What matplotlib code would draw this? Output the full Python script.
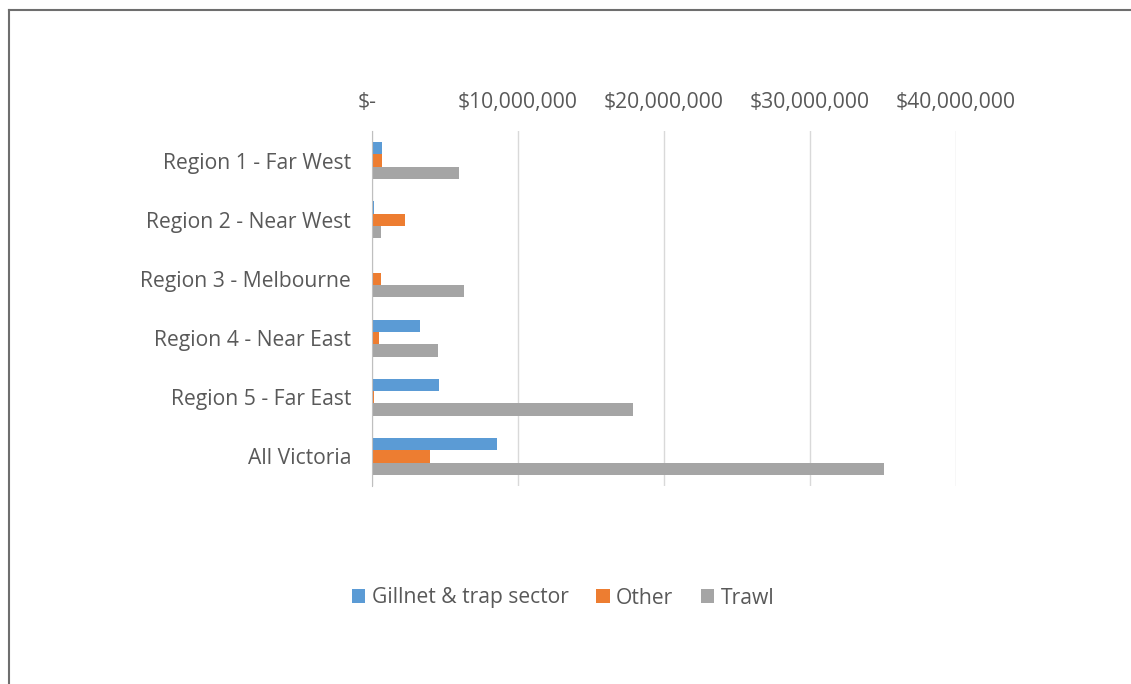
import matplotlib
matplotlib.use("Agg")
import matplotlib.pyplot as plt
from matplotlib.lines import Line2D
from matplotlib.transforms import ScaledTranslation
import numpy as np

regions = ["Region 1 - Far West", "Region 2 - Near West", "Region 3 - Melbourne",
           "Region 4 - Near East", "Region 5 - Far East", "All Victoria"]
gillnet = [0.70e6, 0.16e6, 0.0, 3.31e6, 4.59e6, 8.55e6]
other = [0.70e6, 2.24e6, 0.60e6, 0.48e6, 0.16e6, 3.97e6]
trawl = [5.95e6, 0.60e6, 6.28e6, 4.52e6, 17.9e6, 35.1e6]
series_names = ["Gillnet & trap sector", "Other", "Trawl"]
x_ticks = [0, 10e6, 20e6, 30e6, 40e6]
x_tick_labels = ["$-", "$10,000,000", "$20,000,000", "$30,000,000", "$40,000,000"]

colors = ["#5B9BD5", "#ED7D31", "#A5A5A5"]
text_color = "#595959"
plt.rcParams["font.family"] = ["Open Sans", "DejaVu Sans"]
fs = 15.2

fig = plt.figure(figsize=(11.31, 6.84), dpi=100)
W, H = 1131, 684
left, right, top, bottom = 372, 956, 131, 486
ax = fig.add_axes([left / W, 1 - bottom / H, (right - left) / W, (bottom - top) / H])

y = np.arange(len(regions))
bh = 0.208
for i, (vals, name) in enumerate(zip([gillnet, other, trawl], series_names)):
    ax.barh(y + (i - 1) * bh, vals, height=bh, color=colors[i], label=name, zorder=3)

ax.set_ylim(len(regions) - 0.5, -0.5)
ax.set_xlim(0, 40e6)
ax.set_yticks(y)
ax.set_yticklabels(regions, fontsize=fs, color=text_color)
ax.xaxis.tick_top()
ax.set_xticks(x_ticks)
ax.set_xticklabels(x_tick_labels, fontsize=fs, color=text_color)
ax.tick_params(axis="both", length=0)
ax.tick_params(axis="x", pad=13)
ax.tick_params(axis="y", pad=15)
ax.grid(axis="x", color="#D9D9D9", linewidth=1, zorder=0)
for s in ["top", "right", "bottom"]:
    ax.spines[s].set_visible(False)
ax.spines["left"].set_color("#BFBFBF")
ax.spines["left"].set_zorder(4)

# accounting-style zero label sits a little left of the axis
zero_lbl = ax.get_xticklabels()[0]
zero_lbl.set_transform(zero_lbl.get_transform() + ScaledTranslation(-5 / 100, 0, fig.dpi_scale_trans))

leg = fig.legend(loc="center", bbox_to_anchor=(563 / W, 1 - 598 / H), ncol=3,
                 frameon=False, fontsize=fs, handlelength=0.65, handleheight=0.65,
                 handletextpad=0.3, columnspacing=1.3)
for t in leg.get_texts():
    t.set_color(text_color)

# outer frame drawn along the top and left edges
fig.add_artist(Line2D([8.5 / W, 1], [1 - 9.5 / H, 1 - 9.5 / H], color="#6E6E6E", lw=1.5))
fig.add_artist(Line2D([8.5 / W, 8.5 / W], [0, 1 - 9.5 / H], color="#6E6E6E", lw=1.5))

fig.savefig("out.png", dpi=100, facecolor="white")
